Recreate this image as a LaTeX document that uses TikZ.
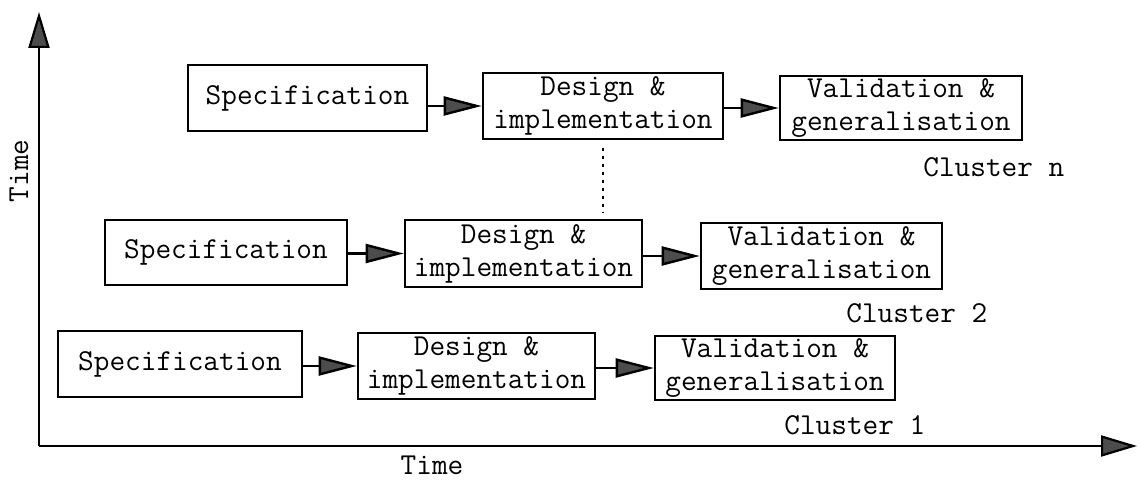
\documentclass[tikz,border=0pt]{standalone}
\usepackage{fontspec}
\usetikzlibrary{arrows.meta}
\begin{document}
\begin{tikzpicture}[x=0.5pt,y=-0.5pt,
  txt/.style={font=\ttfamily\fontsize{15.2}{16.5}\selectfont},
  box/.style={txt, draw, line width=1.3pt, inner sep=0pt, align=center},
  flow/.style={line width=1.2pt, -{Triangle[length=19pt,width=9.5pt,fill=black!70]}},
  axis/.style={line width=1.1pt, -{Triangle[length=18pt,width=10.5pt,fill=black!70]}},
  lbl/.style={txt, inner sep=0pt, anchor=base west},
  dots/.style={line width=1.4pt, dash pattern=on 1.4pt off 2.6pt}]
\useasboundingbox (0,0) rectangle (1140,480);

% axes
\coordinate (o) at (39,446);
\coordinate (ytop) at (39,12);
\coordinate (xend) at (1137,446);
\draw[axis] (o) -- (ytop);
\draw[axis] (o) -- (xend);
\node[txt, inner sep=0pt, rotate=90] (ty) at (19,171) {Time};
\node[txt, inner sep=0pt, anchor=base] (tx) at (432,474) {Time};

% cluster n
\node[box, minimum width=119.5pt, minimum height=33pt] (sn) at (307.5,98) {Specification};
\node[box, minimum width=120pt, minimum height=33pt] (dn) at (603,106) {Design \&\\implementation};
\node[box, minimum width=121pt, minimum height=32pt] (vn) at (901,108) {Validation \&\\generalisation};
\draw[flow] (sn.east |- dn.west) -- (dn.west);
\draw[flow] (dn.east |- vn.west) -- (vn.west);
\node[lbl] (cn) at (923,177) {Cluster n};

% cluster 2
\node[box, minimum width=121pt, minimum height=32.5pt] (s2) at (226,252.5) {Specification};
\node[box, minimum width=118.5pt, minimum height=33.5pt] (d2) at (523.5,253.5) {Design \&\\implementation};
\node[box, minimum width=120.5pt, minimum height=33pt] (v2) at (821.5,256) {Validation \&\\generalisation};
\draw[flow] (s2.east |- d2.west) -- (d2.west);
\draw[flow] (d2.east |- v2.west) -- (v2.west);
\node[lbl] (c2) at (846,323) {Cluster 2};

% cluster 1
\node[box, minimum width=122pt, minimum height=33pt] (s1) at (180,364) {Specification};
\node[box, minimum width=118.5pt, minimum height=33pt] (d1) at (476.5,366) {Design \&\\implementation};
\node[box, minimum width=120pt, minimum height=32pt] (v1) at (775,368) {Validation \&\\generalisation};
\draw[flow] (s1.east |- d1.west) -- (d1.west);
\draw[flow] (d1.east |- v1.west) -- (v1.west);
\node[lbl] (c1) at (784,435) {Cluster 1};

% dotted continuation
\coordinate (dtop) at (603,148);
\coordinate (dbot) at (603,213);
\draw[dots] (dtop) -- (dbot);
\end{tikzpicture}
\end{document}
